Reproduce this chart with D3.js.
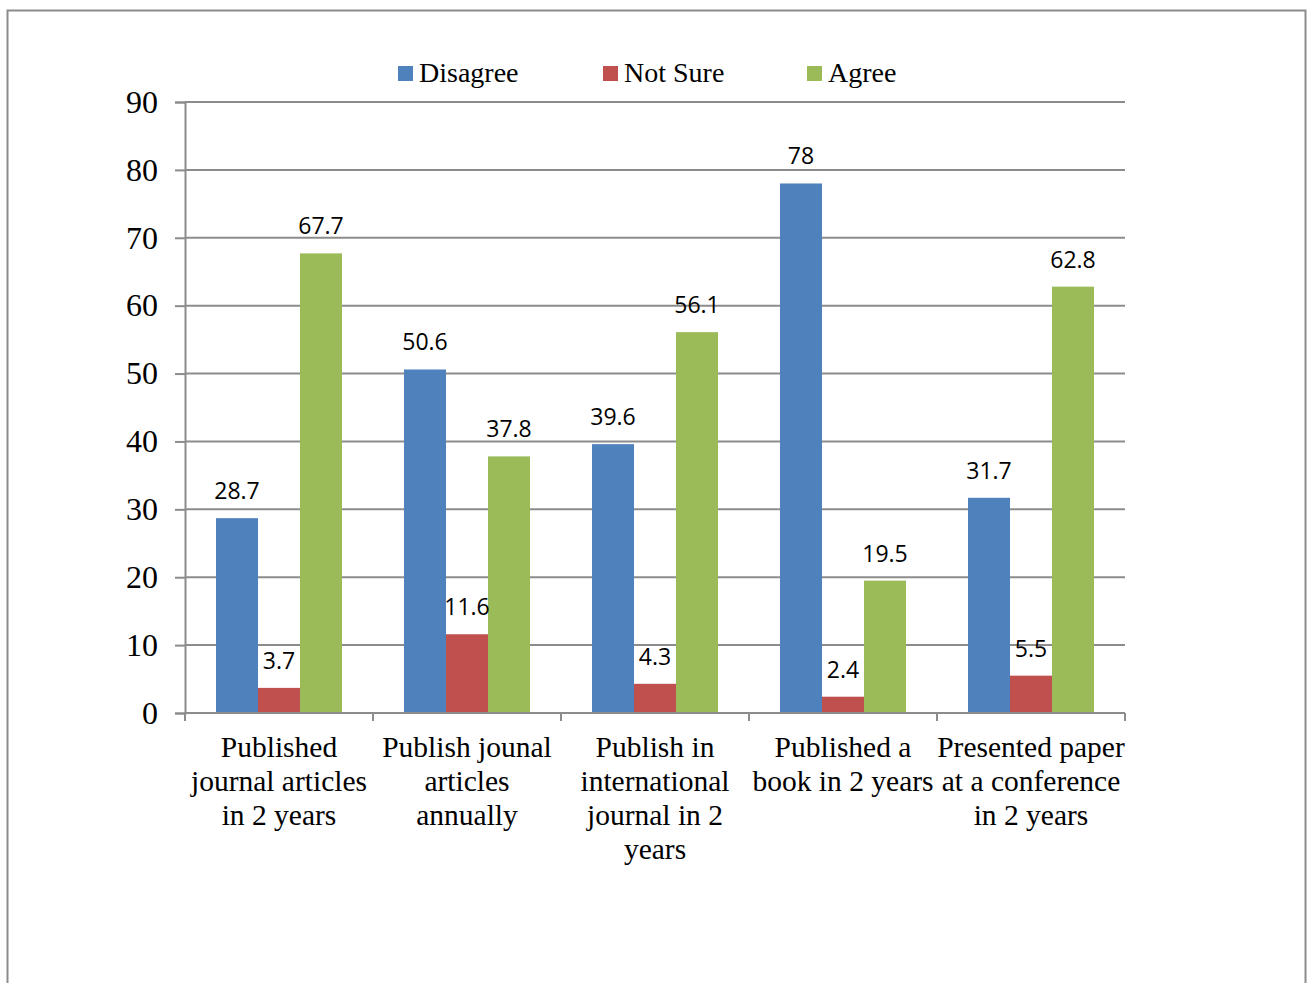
<!DOCTYPE html>
<html>
<head>
<meta charset="utf-8">
<script src="https://cdn.jsdelivr.net/npm/d3@7"></script>
<style>
  html, body { margin: 0; padding: 0; background: #fff; }
  svg { display: block; }
  .serif { font-family: "Liberation Serif", serif; }
  .sans { font-family: "Open Sans", "Noto Sans", sans-serif; }
</style>
</head>
<body>
<svg id="chart" width="1311" height="983"></svg>
<script>
// Survey responses on publication activity (percent)
const categories = [
  "Published journal articles in 2 years",
  "Publish jounal articles annually",
  "Publish in international journal in 2 years",
  "Published a book in 2 years",
  "Presented paper at a conference in 2 years"
];
const categoryLines = [
  ["Published", "journal articles", "in 2 years"],
  ["Publish jounal", "articles", "annually"],
  ["Publish in", "international", "journal in 2", "years"],
  ["Published a", "book in 2 years"],
  ["Presented paper", "at a conference", "in 2 years"]
];
const seriesNames = ["Disagree", "Not Sure", "Agree"];
const disagree = [28.7, 50.6, 39.6, 78, 31.7];
const notSure  = [3.7, 11.6, 4.3, 2.4, 5.5];
const agree    = [67.7, 37.8, 56.1, 19.5, 62.8];
const yTicks   = [0, 10, 20, 30, 40, 50, 60, 70, 80, 90];
const colors   = ["#4F81BD", "#C0504D", "#9BBB59"];

const seriesValues = [disagree, notSure, agree];

const svg = d3.select("#chart");
const plot = { left: 185, right: 1125, top: 102, bottom: 713 };

// outer frame
svg.append("rect")
  .attr("x", 7.5).attr("y", 10.5)
  .attr("width", 1298).attr("height", 1000)
  .attr("fill", "none")
  .attr("stroke", "#8c8c8c")
  .attr("stroke-width", 2);

const y = d3.scaleLinear().domain([0, 90]).range([plot.bottom, plot.top]);
const x0 = d3.scaleBand().domain(categories).range([plot.left, plot.right]).padding(0);
const x1 = d3.scaleBand().domain(seriesNames).range([0, x0.bandwidth()])
  .paddingInner(0).paddingOuter(0.738);

// horizontal gridlines
svg.append("g").selectAll("line")
  .data(yTicks.filter(d => d > 0))
  .join("line")
  .attr("x1", plot.left).attr("x2", plot.right)
  .attr("y1", d => y(d)).attr("y2", d => y(d))
  .attr("stroke", "#8c8c8c").attr("stroke-width", 2);

// y axis
const yAxis = svg.append("g")
  .attr("transform", `translate(${plot.left},0)`)
  .call(d3.axisLeft(y).tickValues(yTicks).tickSize(10).tickPadding(17))
  .attr("font-family", null)
  .attr("font-size", null)
  .attr("class", "serif");
yAxis.select(".domain").attr("stroke", "#8c8c8c").attr("stroke-width", 2);
yAxis.selectAll(".tick line").attr("stroke", "#8c8c8c").attr("stroke-width", 2);
yAxis.selectAll(".tick text")
  .style("font-family", "'Liberation Serif', serif")
  .style("font-size", "32px")
  .attr("fill", "#000");

// bars
const groups = svg.append("g").selectAll("g")
  .data(categories)
  .join("g")
  .attr("transform", d => `translate(${x0(d)},0)`);

groups.selectAll("rect")
  .data((c, i) => seriesNames.map((s, k) => ({ s, v: seriesValues[k][i], k })))
  .join("rect")
  .attr("x", d => x1(d.s))
  .attr("width", x1.bandwidth())
  .attr("y", d => y(d.v))
  .attr("height", d => y(0) - y(d.v))
  .attr("fill", d => colors[d.k]);

// value labels
groups.selectAll("text.val")
  .data((c, i) => seriesNames.map((s, k) => ({ s, v: seriesValues[k][i], k })))
  .join("text")
  .attr("class", "val sans")
  .attr("x", d => x1(d.s) + x1.bandwidth() / 2)
  .attr("y", d => y(d.v) - 19)
  .attr("text-anchor", "middle")
  .style("font-size", "23px")
  .attr("fill", "#000")
  .text(d => d.v);

// x axis line and tick marks
const xAxis = svg.append("g");
xAxis.append("line")
  .attr("x1", plot.left).attr("x2", plot.right)
  .attr("y1", plot.bottom).attr("y2", plot.bottom)
  .attr("stroke", "#8c8c8c").attr("stroke-width", 2);
const boundaries = categories.map(c => x0(c)).concat([x0(categories[categories.length - 1]) + x0.bandwidth()]);
xAxis.selectAll("line.tk")
  .data(boundaries)
  .join("line")
  .attr("class", "tk")
  .attr("x1", d => d).attr("x2", d => d)
  .attr("y1", plot.bottom).attr("y2", plot.bottom + 8)
  .attr("stroke", "#8c8c8c").attr("stroke-width", 2);

// category labels
svg.append("g").selectAll("text")
  .data(categories)
  .join("text")
  .attr("class", "serif")
  .attr("text-anchor", "middle")
  .style("font-size", "29.5px")
  .attr("fill", "#000")
  .each(function (c, i) {
    const t = d3.select(this);
    categoryLines[i].forEach((ln, j) => {
      t.append("tspan")
        .attr("x", x0(c) + x0.bandwidth() / 2)
        .attr("y", 757 + j * 34)
        .text(ln);
    });
  });

// legend
const legendX = [398, 603, 807];
const legend = svg.append("g").selectAll("g")
  .data(seriesNames)
  .join("g")
  .attr("transform", (d, i) => `translate(${legendX[i]},66)`);
legend.append("rect")
  .attr("width", 15).attr("height", 15)
  .attr("fill", (d, i) => colors[i]);
legend.append("text")
  .attr("class", "serif")
  .attr("x", 21).attr("y", 16)
  .style("font-size", "28px")
  .attr("fill", "#000")
  .text(d => d);
</script>
</body>
</html>
